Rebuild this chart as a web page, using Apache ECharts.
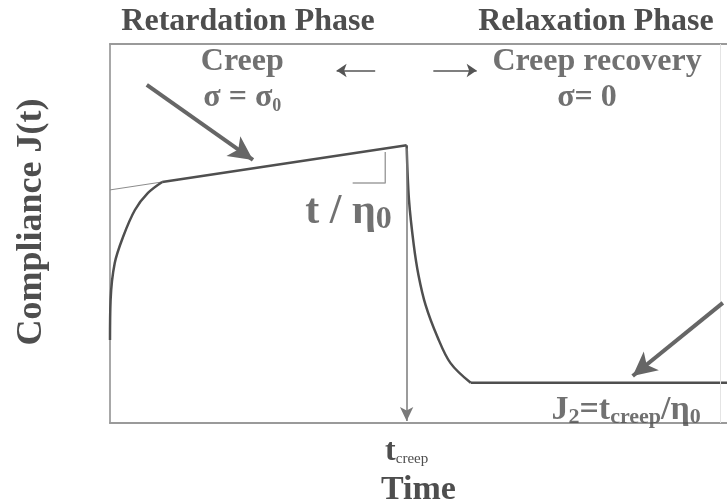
<!DOCTYPE html>
<html>
<head>
<meta charset="utf-8">
<script src="https://cdn.jsdelivr.net/npm/echarts@6/dist/echarts.min.js"></script>
<style>
  html, body { margin: 0; padding: 0; background: #fff; }
  #chart { width: 727px; height: 501px; }
</style>
</head>
<body>
<div id="chart"></div>
<script>
// Axis extents (arbitrary units: time on x, compliance on y)
const X_MAX = 10.4;
const Y_MAX = 10;
const T_CREEP = 5.0;

// Creep phase: fast retarded rise, then the steady viscous slope
const creepRiseT = [0, 0.01, 0.08, 0.22, 0.42, 0.64, 0.88];
const creepRiseJ = [2.19, 3.25, 4.22, 4.91, 5.62, 6.07, 6.36];
const creepSlopeT = [0.88, 5.0];
const creepSlopeJ = [6.36, 7.33];

// Back-extrapolated tangent of the steady slope
const tangentT = [0, 0.88];
const tangentJ = [6.15, 6.36];

// Recovery after unloading at t_creep, settling at the residual compliance J2
const recoveryT = [5.0, 5.04, 5.12, 5.2, 5.32, 5.52, 5.74, 6.08];
const recoveryJ = [7.33, 5.88, 4.70, 3.90, 3.11, 2.27, 1.58, 1.06];
const plateauT = [6.08, X_MAX];
const plateauJ = [1.06, 1.06];

// Slope marker (step) under the steady line
const stepT = [4.09, 4.64, 4.64];
const stepJ = [6.33, 6.33, 7.15];

const INK = '#4e4e4e';
const SERIF = "'Liberation Serif', 'DejaVu Serif', serif";

const zip = (xs, ys) => xs.map((x, i) => [x, ys[i]]);

// Text annotations anchored in data space
const notes = [
  { at: [2.23, 9.53], text: 'Creep' },
  { at: [2.23, 8.58], text: '{m|σ = σ}{sub|0}' },
  { at: [8.21, 9.53], text: 'Creep recovery' },
  { at: [8.04, 8.58], text: '{m|σ= 0}' },
  { at: [4.02, 5.55], text: '{big|t / η}{bsub|0}' },
  { at: [8.70, 0.33], text: '{j|J}{jsub|2}{j|=t}{jsub|creep}{j|/η}{jsub|0}' }
];

// Pointer arrows [from, to]
const bigArrows = [
  [[0.62, 8.92], [2.41, 6.94]],
  [[10.33, 3.17], [8.81, 1.24]]
];
const smallArrows = [
  [[4.47, 9.30], [3.82, 9.30]],
  [[5.45, 9.30], [6.18, 9.30]]
];

const rich = {
  m: { fontSize: 32, fontFamily: SERIF, fontWeight: 'bold', color: INK, lineHeight: 36 },
  sub: { fontSize: 18, fontFamily: SERIF, fontWeight: 'bold', color: INK, lineHeight: 12, verticalAlign: 'bottom' },
  j: { fontSize: 34, fontFamily: SERIF, fontWeight: 'bold', color: INK, lineHeight: 36 },
  jsub: { fontSize: 22, fontFamily: SERIF, fontWeight: 'bold', color: INK, lineHeight: 10, verticalAlign: 'bottom' },
  big: { fontSize: 42, fontFamily: SERIF, fontWeight: 'bold', color: INK, lineHeight: 46 },
  bsub: { fontSize: 32, fontFamily: SERIF, fontWeight: 'bold', color: INK, lineHeight: 26, verticalAlign: 'bottom' },
  t: { fontSize: 32, fontFamily: SERIF, fontWeight: 'bold', color: INK, lineHeight: 30 },
  ts: { fontSize: 15, fontFamily: SERIF, color: INK, lineHeight: 8, verticalAlign: 'bottom' }
};

const chart = echarts.init(document.getElementById('chart'), null, { renderer: 'canvas' });

const curveStyle = { color: '#4f4f4f', width: 2.5 };

chart.setOption({
  animation: false,
  backgroundColor: '#fff',
  grid: { left: 110, right: 0, top: 44, bottom: 78, containLabel: false, outerBoundsMode: 'none' },
  xAxis: [
    {
      type: 'value', min: 0, max: X_MAX, position: 'bottom',
      axisLine: { show: true, lineStyle: { color: '#9a9a9a', width: 2 } },
      axisTick: { show: false },
      splitLine: { show: false },
      axisLabel: {
        show: true, customValues: [T_CREEP], margin: 14,
        formatter: () => '{t|t}{ts|creep}', rich: rich
      },
      name: 'Time', nameLocation: 'middle', nameGap: 42,
      nameTextStyle: { fontSize: 34, fontFamily: SERIF, fontWeight: 'bold', color: INK }
    },
    {
      type: 'value', min: 0, max: X_MAX, position: 'top',
      axisLine: { show: true, lineStyle: { color: '#9a9a9a', width: 2 } },
      axisTick: { show: false }, axisLabel: { show: false }, splitLine: { show: false }
    }
  ],
  yAxis: {
    type: 'value', min: 0, max: Y_MAX,
    axisLine: { show: true, lineStyle: { color: '#a8a8a8', width: 2 } },
    axisTick: { show: false }, axisLabel: { show: false }, splitLine: { show: false }
  },
  graphic: [
    { type: 'text', x: 248, y: 22, style: { text: 'Retardation Phase', font: 'bold 32px ' + SERIF, fill: INK, align: 'center', verticalAlign: 'middle' } },
    { type: 'text', x: 596, y: 22, style: { text: 'Relaxation Phase', font: 'bold 32px ' + SERIF, fill: INK, align: 'center', verticalAlign: 'middle' } },
    { type: 'text', x: 32, y: 222, rotation: Math.PI / 2, style: { text: 'Compliance J(t)', font: 'bold 36px ' + SERIF, fill: INK, align: 'center', verticalAlign: 'middle' } }
  ],
  series: [
    {
      type: 'line', name: 'tangent', data: zip(tangentT, tangentJ), symbol: 'none',
      lineStyle: { color: '#8c8c8c', width: 1 }, silent: true
    },
    {
      type: 'line', name: 'step', data: zip(stepT, stepJ), symbol: 'none',
      lineStyle: { color: '#a0a0a0', width: 1.5 }, silent: true
    },
    {
      type: 'line', name: 'creepRise', data: zip(creepRiseT, creepRiseJ), symbol: 'none',
      smooth: 0.35, lineStyle: curveStyle, silent: true
    },
    {
      type: 'line', name: 'creepSlope', data: zip(creepSlopeT, creepSlopeJ), symbol: 'none',
      lineStyle: curveStyle, silent: true,
      markLine: {
        silent: true, symbol: ['none', 'arrow'], symbolSize: [10, 14], label: { show: false },
        lineStyle: { color: '#7a7a7a', width: 1.5, type: 'solid' },
        data: [[{ coord: [T_CREEP, 7.25] }, { coord: [T_CREEP, 0.05] }]]
      }
    },
    {
      type: 'line', name: 'recovery', data: zip(recoveryT, recoveryJ), symbol: 'none',
      smooth: 0.35, lineStyle: curveStyle, silent: true
    },
    {
      type: 'line', name: 'plateau', data: zip(plateauT, plateauJ), symbol: 'none',
      lineStyle: curveStyle, silent: true,
      markLine: {
        silent: true, symbol: ['none', 'none'], label: { show: false },
        lineStyle: { color: '#e4e4e4', width: 1, type: 'solid' },
        data: [[{ coord: [10.28, Y_MAX] }, { coord: [10.28, 0] }]]
      }
    },
    {
      type: 'line', name: 'pointers', data: [], symbol: 'none', silent: true,
      markLine: {
        silent: true, symbol: ['none', 'arrow'], symbolSize: [18, 24], label: { show: false },
        lineStyle: { color: '#666', width: 4, type: 'solid' },
        data: bigArrows.map(([a, b]) => [{ coord: a }, { coord: b }])
      }
    },
    {
      type: 'line', name: 'phaseArrows', data: [], symbol: 'none', silent: true,
      markLine: {
        silent: true, symbol: ['none', 'arrow'], symbolSize: [10, 10], label: { show: false },
        lineStyle: { color: '#555', width: 1.5, type: 'solid' },
        data: smallArrows.map(([a, b]) => [{ coord: a }, { coord: b }])
      }
    },
    {
      type: 'scatter', name: 'notes', symbolSize: 0, silent: true,
      data: notes.map(n => ({
        value: n.at,
        label: {
          show: true, position: 'inside', formatter: n.text, rich: rich,
          fontSize: 32, fontFamily: SERIF, fontWeight: 'bold', color: INK
        }
      }))
    }
  ]
});
</script>
</body>
</html>
